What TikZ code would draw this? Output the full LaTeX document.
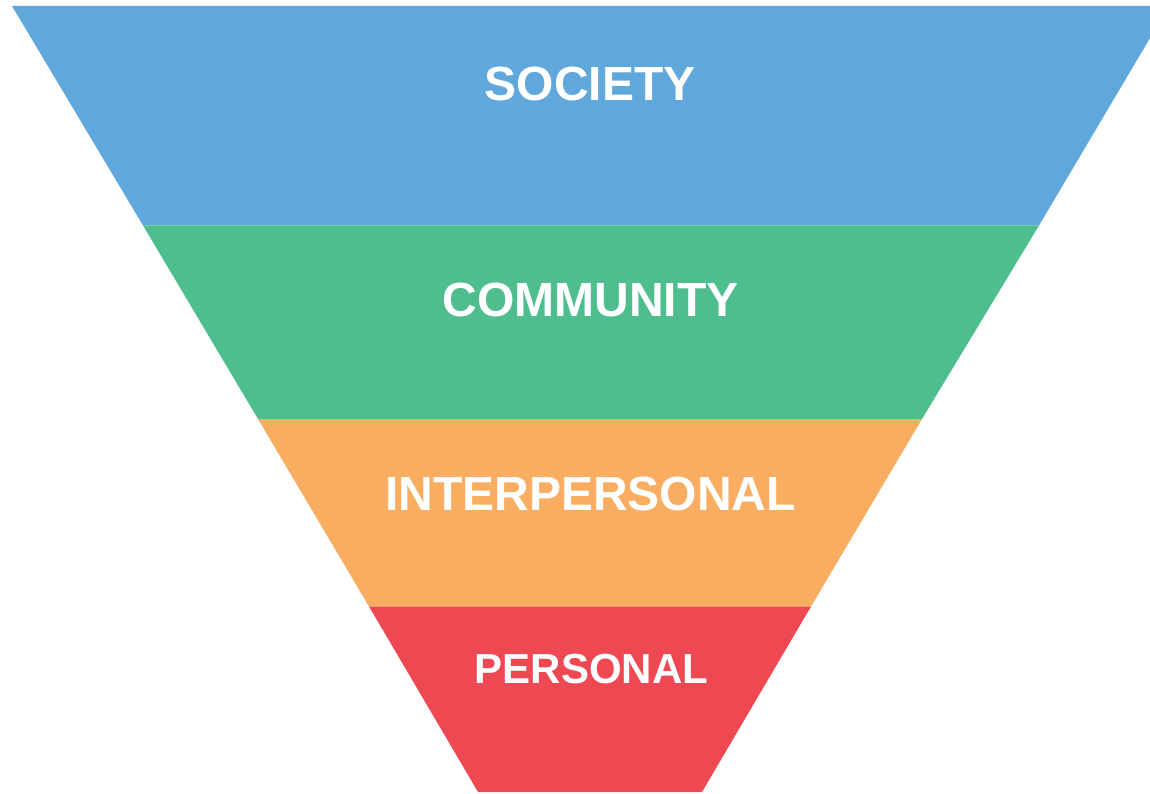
\documentclass[tikz,border=0pt]{standalone}
\usepackage{fontspec}
\setmainfont{Liberation Sans}
\definecolor{bandblue}{HTML}{60A7DB}
\definecolor{bandgreen}{HTML}{4EBE8E}
\definecolor{bandorange}{HTML}{F8AD60}
\definecolor{bandred}{HTML}{EE4853}
\tikzset{
  label text/.style={text=white, font=\fontsize{48}{52}\selectfont\bfseries, anchor=center, inner sep=0pt},
  small label text/.style={label text, font=\fontsize{42}{46}\selectfont\bfseries}
}
\begin{document}
\begin{tikzpicture}[x=1pt,y=-1pt]
\useasboundingbox (0,0) rectangle (1150,794);
\begin{scope}
\clip (0,0) rectangle (1150,794);
\fill[bandblue] (12,6) -- (1169,6) -- (1039,225.5) -- (143,225.5) -- cycle;
\fill[bandgreen] (143,225.5) -- (1039,225.5) -- (922,419) -- (258,419) -- cycle;
\fill[bandorange] (258,419) -- (922,419) -- (811,606.5) -- (369,606.5) -- cycle;
\fill[bandred] (369,606.5) -- (811,606.5) -- (702,792) -- (478,792) -- cycle;
\end{scope}
\node[label text] (society) at (590,84) {SOCIETY};
\node[label text] (community) at (590.5,300) {COMMUNITY};
\node[label text] (interpersonal) at (590.5,494) {INTERPERSONAL};
\node[small label text] (personal) at (591.5,669.5) {PERSONAL};
\end{tikzpicture}
\end{document}
